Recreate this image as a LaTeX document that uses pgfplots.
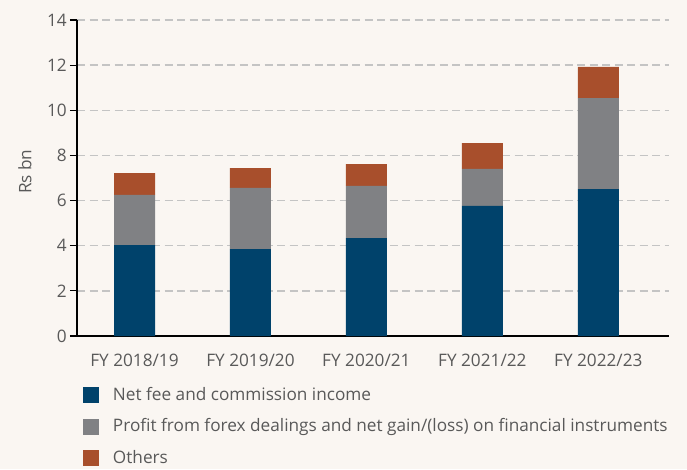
\documentclass[border=0pt]{standalone}
\usepackage{pgfplots}
\pgfplotsset{compat=1.18}
\usepackage{fontspec}
\setmainfont{Open Sans}
\definecolor{bg}{HTML}{FAF6F2}
\definecolor{cblue}{HTML}{00426B}
\definecolor{cgray}{HTML}{808184}
\definecolor{corange}{HTML}{A84F2C}
\definecolor{txt}{HTML}{595959}
\definecolor{gridc}{HTML}{C4C4C4}
\begin{document}
\fontsize{17.2}{20}\selectfont
\begin{tikzpicture}[x=1pt,y=1pt]
\fill[bg] (0,0) rectangle (687,469);
\useasboundingbox (0,0) rectangle (687,469);
\begin{axis}[
  at={(77pt,133pt)}, anchor=south west,
  scale only axis, width=592pt, height=316pt,
  ybar stacked, bar width=41pt,
  xmin=-0.496, xmax=4.61, ymin=0, ymax=14,
  xtick={0,1,2,3,4},
  xticklabels={FY 2018/19,FY 2019/20,FY 2020/21,FY 2021/22,FY 2022/23},
  ytick={0,2,...,14},
  axis lines=left, axis line style={-, black},
  x axis line style={line width=2pt},
  y axis line style={line width=1.5pt},
  tick align=outside,
  major x tick style={draw=none},
  major y tick style={black, line width=1.2pt},
  major tick length=7pt,
  ymajorgrids,
  grid style={gridc, line width=1.4pt, dash pattern=on 8pt off 4.5pt},
  /pgf/number format/assume math mode=true,
  ticklabel style={font=\fontsize{17.2}{20}\selectfont, text=txt},
  yticklabel style={inner sep=0pt, xshift=-3pt},
  xticklabel style={inner sep=0pt, yshift=-11pt},
  ylabel={Rs bn},
  ylabel style={at={(axis description cs:-0.088,0.52)}, anchor=center, font=\fontsize{17.2}{20}\selectfont, text=txt},
  legend style={at={(axis description cs:0.0101,-0.1614)}, anchor=north west,
    draw=none, fill=none, inner sep=0pt, outer sep=0pt,
    row sep=15.5pt, column sep=14pt,
    font=\fontsize{17.2}{20}\selectfont, text=txt,
    nodes={inner sep=0pt}},
  legend cell align=left,
  legend image code/.code={\draw[#1,draw=none] (0pt,-8pt) rectangle (16pt,8pt);},
]
\addplot[fill=cblue, draw=none] coordinates {(0,4.03) (1,3.85) (2,4.34) (3,5.76) (4,6.51)};
\addplot[fill=cgray, draw=none] coordinates {(0,2.22) (1,2.71) (2,2.31) (3,1.64) (4,4.03)};
\addplot[fill=corange, draw=none] coordinates {(0,0.97) (1,0.88) (2,0.97) (3,1.15) (4,1.38)};
\legend{Net fee and commission income, Profit from forex dealings and net gain/(loss) on financial instruments, Others}
\end{axis}
\end{tikzpicture}
\end{document}
